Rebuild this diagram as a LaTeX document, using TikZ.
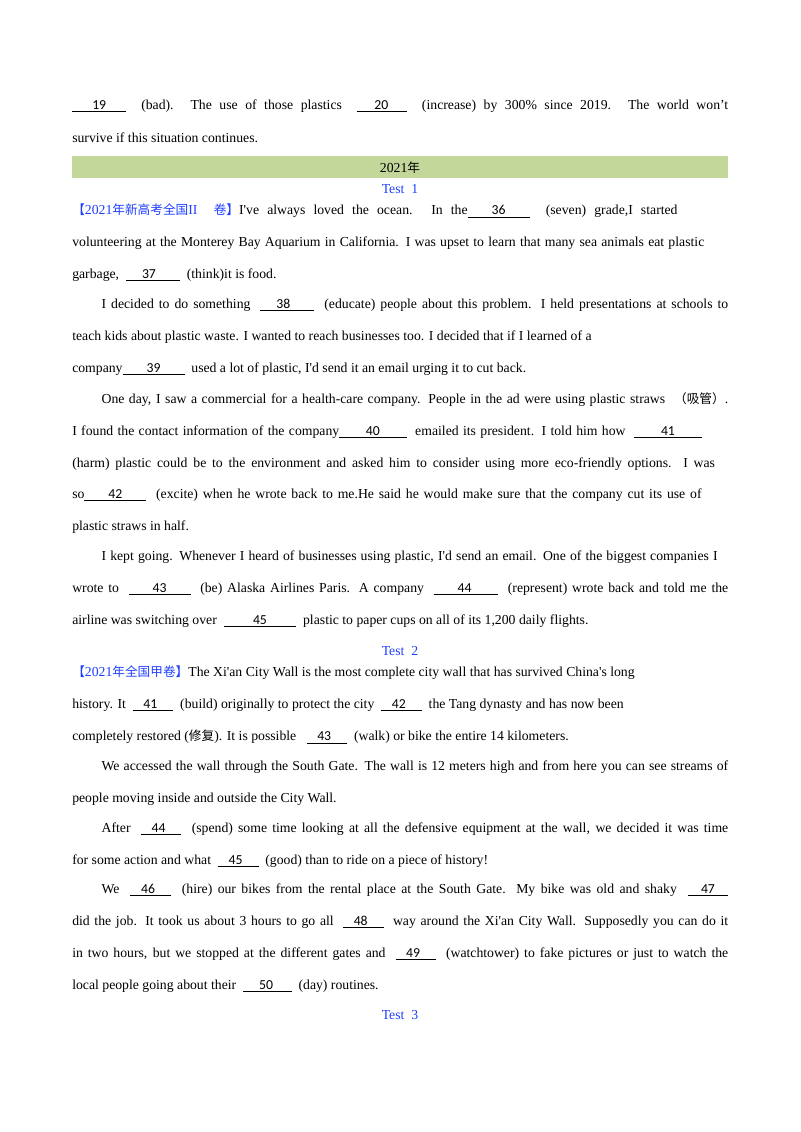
\documentclass[tikz,border=0pt]{standalone}
\usepackage{fontspec}
\setmainfont{Liberation Serif}
\newfontfamily\plainf{Liberation Serif}
\newfontfamily\carl{Carlito}
\newfontfamily\cjk{Noto Sans CJK SC}
\newcommand\q{{\plainf\char"0027\relax}}
\newcommand\bl[3]{\underline{\hspace{#1pt}{\carl #3}\hspace{#2pt}}}
\newcommand\cj[1]{{\cjk\fontsize{9.5}{10}\selectfont #1}}
\definecolor{bar}{HTML}{C4D79B}
\definecolor{tb}{HTML}{1F3FFF}
\begin{document}
\begin{tikzpicture}[x=0.75pt,y=-0.75pt,
  ln/.style={anchor=west,inner sep=0,font=\fontsize{10.3}{11}\selectfont},
  ctr/.style={inner sep=0,font=\fontsize{10.3}{11}\selectfont,text=tb}]
\useasboundingbox (0,0) rectangle (800,1132);
\fill[bar] (72,156) rectangle (728,178);
\def\W{492pt}
\node[ln] (l1) at (72,106) {\makebox[\W][s]{\bl{15}{15}{19} \ (bad). The use of those plastics \ \bl{13}{14}{20} \ (increase) by 300\% since 2019. The world won’t}};
\node[ln] (l2) at (72,138) {survive if this situation continues.};
\node[inner sep=0,font=\fontsize{10.3}{11}\selectfont] (y) at (400,168) {2021\cj{年}};
\node[ctr] (t1) at (400,189) {Test\ \ 1};
\node[ln] (a1) at (72,211) {\makebox[\W][s]{\textcolor{tb}{\cj{【}2021\cj{年新高考全国}II\ \ \cj{卷】}}I\q ve always loved the ocean. In the\bl{18}{18}{36} \ (seven) grade,I started\hspace{38pt}}};
\node[ln] (a2) at (72,243) {\makebox[\W][s]{volunteering at the Monterey Bay Aquarium in California. I was upset to learn that many sea animals eat plastic\hspace{18pt}}};
\node[ln] (a3) at (72,275) {garbage, \ \bl{12}{18}{37} \ (think)it is food.};
\node[ln] (a4) at (72,305) {\makebox[\W][s]{\hspace{22pt}I decided to do something \ \bl{12}{18}{38} \ (educate) people about this problem. I held presentations at schools to}};
\node[ln] (a5) at (72,337) {teach kids about plastic waste. I wanted to reach businesses too. I decided that if I learned of a};
\node[ln] (a6) at (72,369) {company\bl{18}{18}{39} \ used a lot of plastic, I\q d send it an email urging it to cut back.};
\node[ln] (a7) at (72,400) {\makebox[\W][s]{\hspace{22pt}One day, I saw a commercial for a health-care company. People in the ad were using plastic straws \ \cj{（吸管）}.}};
\node[ln] (a8) at (72,432) {\makebox[\W][s]{I found the contact information of the company\bl{20}{20}{40} \ emailed its president. I told him how \ \bl{20}{20}{41}\hspace{20pt}}};
\node[ln] (a9) at (72,464) {\makebox[\W][s]{(harm) plastic could be to the environment and asked him to consider using more eco-friendly options. I was\hspace{10pt}}};
\node[ln] (a10) at (72,495) {\makebox[\W][s]{so\bl{18}{18}{42} \ (excite) when he wrote back to me.He said he would make sure that the company cut its use of\hspace{20pt}}};
\node[ln] (a11) at (72,527) {plastic straws in half.};
\node[ln] (a12) at (72,557) {\makebox[\W][s]{\hspace{22pt}I kept going. Whenever I heard of businesses using plastic, I\q d send an email. One of the biggest companies I\hspace{8pt}}};
\node[ln] (a13) at (72,589) {\makebox[\W][s]{wrote to \ \bl{18}{18}{43} \ (be) Alaska Airlines Paris. A company \ \bl{18}{20}{44} \ (represent) wrote back and told me the}};
\node[ln] (a14) at (72,621) {airline was switching over \ \bl{22}{22}{45} \ plastic to paper cups on all of its 1,200 daily flights.};
\node[ctr] (t2) at (400,651) {Test\ \ 2};
\node[ln] (b1) at (72,673) {\textcolor{tb}{\cj{【}2021\cj{年全国甲卷】}}The Xi\q an City Wall is the most complete city wall that has survived China\q s long};
\node[ln] (b2) at (72,705) {history. It \ \bl{8}{12}{41} \ (build) originally to protect the city \ \bl{8}{12}{42} \ the Tang dynasty and has now been};
\node[ln] (b3) at (72,737) {completely restored (\cj{修复}). It is possible \ \ \bl{8}{12}{43} \ (walk) or bike the entire 14 kilometers.};
\node[ln] (b4) at (72,767) {\makebox[\W][s]{\hspace{22pt}We accessed the wall through the South Gate. The wall is 12 meters high and from here you can see streams of}};
\node[ln] (b5) at (72,799) {people moving inside and outside the City Wall.};
\node[ln] (b6) at (72,829) {\makebox[\W][s]{\hspace{22pt}After \ \bl{8}{12}{44} \ (spend) some time looking at all the defensive equipment at the wall, we decided it was time}};
\node[ln] (b7) at (72,861) {for some action and what \ \bl{8}{12}{45} \ (good) than to ride on a piece of history!};
\node[ln] (b8) at (72,890) {\makebox[\W][s]{\hspace{22pt}We \ \bl{8}{12}{46} \ (hire) our bikes from the rental place at the South Gate. My bike was old and shaky \ \bl{10}{10}{47}}};
\node[ln] (b9) at (72,922) {\makebox[\W][s]{did the job. It took us about 3 hours to go all \ \bl{8}{12}{48} \ way around the Xi\q an City Wall. Supposedly you can do it}};
\node[ln] (b10) at (72,954) {\makebox[\W][s]{in two hours, but we stopped at the different gates and \ \bl{8}{12}{49} \ (watchtower) to fake pictures or just to watch the}};
\node[ln] (b11) at (72,986) {local people going about their \ \bl{12}{14}{50} \ (day) routines.};
\node[ctr] (t3) at (400,1015) {Test\ \ 3};
\end{tikzpicture}
\end{document}
